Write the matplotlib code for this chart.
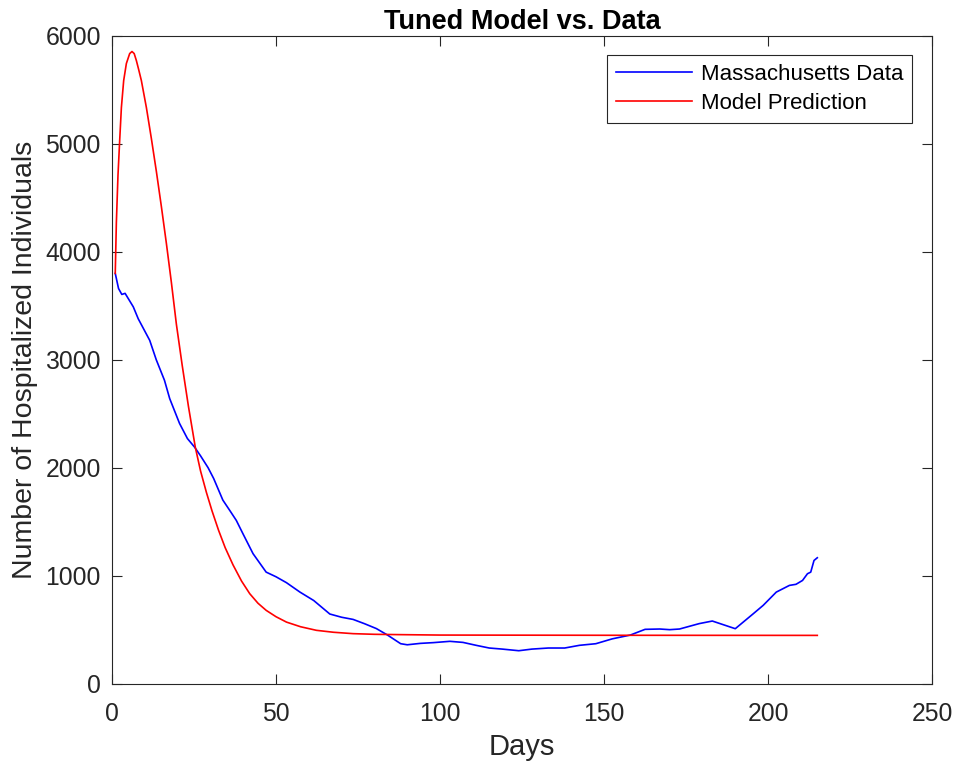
import matplotlib
matplotlib.use("Agg")
import matplotlib.pyplot as plt

# Massachusetts hospitalisation data
data_days = [1, 2, 3, 4, 5, 6.5, 8, 11.5, 13.5, 16, 17.6, 20.6, 23, 25.2, 27, 29.3, 31,
             33.8, 36, 37.9, 39.9, 43, 47, 50, 53.2, 57.3, 61.5, 66.4, 70, 73.5, 77, 80.6,
             84, 88, 90, 94, 98, 103, 107, 111, 115, 119, 124, 128, 133, 138, 142.5, 147.5,
             152.5, 158, 162.5, 167, 170, 173, 179, 183, 190, 195.5, 198.5, 202.5, 206.5,
             208.5, 210.5, 212, 213, 214, 215]
data_vals = [3800, 3660, 3605, 3615, 3565, 3490, 3380, 3180, 3000, 2810, 2640, 2410, 2270,
             2190, 2110, 2000, 1900, 1700, 1600, 1512, 1390, 1204, 1033, 990, 935, 848, 770,
             645, 615, 595, 555, 510, 450, 370, 360, 373, 380, 392, 382, 355, 330, 320, 305,
             320, 330, 330, 355, 370, 415, 450, 503, 506, 500, 506, 556, 580, 509, 648, 725,
             848, 910, 920, 956, 1018, 1033, 1141, 1166]

# tuned model prediction
model_days = [1, 1.34, 1.83, 2.35, 2.87, 3.57, 4.39, 5.4, 6.1, 6.77, 7.44, 8.14, 8.96,
              10.49, 12.01, 13.54, 15.06, 16.59, 18.11, 19.63, 21.4, 23.3, 25.4, 27, 28.8,
              30.5, 32.5, 34.5, 36.9, 39.5, 42, 44.5, 47, 50, 53.2, 57.5, 62.3, 67.5, 73.5,
              80, 87.7, 100, 150, 215]
model_vals = [3800, 4271, 4706, 5031, 5336, 5586, 5744, 5836, 5855, 5836, 5771, 5688, 5586,
              5336, 5049, 4743, 4419, 4077, 3716, 3330, 2950, 2570, 2190, 1970, 1770, 1600,
              1420, 1260, 1100, 950, 833, 745, 679, 620, 570, 527, 494, 476, 463, 457, 454,
              450, 448, 447]

x_ticks = [0, 50, 100, 150, 200, 250]
y_ticks = [0, 1000, 2000, 3000, 4000, 5000, 6000]

plt.rcParams["font.family"] = ["Liberation Sans", "DejaVu Sans"]
axis_grey = "#262626"

fig = plt.figure(figsize=(9.57, 7.63), dpi=100)
ax = fig.add_axes([0.117, 0.104, 0.857, 0.849])

ax.plot(data_days, data_vals, color=(0, 0, 1), lw=1.2, label="Massachusetts Data")
ax.plot(model_days, model_vals, color=(1, 0, 0), lw=1.2, label="Model Prediction")

ax.set_xlim(0, 250)
ax.set_ylim(0, 6000)
ax.set_xticks(x_ticks)
ax.set_yticks(y_ticks)
ax.tick_params(direction="in", length=7, width=0.8, top=True, right=True,
               labelsize=17.8, colors=axis_grey)
ax.tick_params(axis="x", pad=13)
ax.tick_params(axis="y", pad=8)
for s in ax.spines.values():
    s.set_color(axis_grey)
    s.set_linewidth(0.8)

ax.set_xlabel("Days", fontsize=21, color=axis_grey, labelpad=5)
ax.set_ylabel("Number of Hospitalized Individuals", fontsize=20.5, color=axis_grey, labelpad=5)
ax.set_title("Tuned Model vs. Data", fontsize=19.5, fontweight="bold", pad=5)

leg = ax.legend(loc="upper right", bbox_to_anchor=(0.9756, 0.9707), fontsize=16,
                handlelength=3.4, fancybox=False, framealpha=1, borderpad=0.4,
                labelspacing=0.36, handletextpad=0.4, borderaxespad=0)
leg.get_frame().set_edgecolor(axis_grey)
leg.get_frame().set_linewidth(0.8)

fig.savefig("out.png", dpi=100)
